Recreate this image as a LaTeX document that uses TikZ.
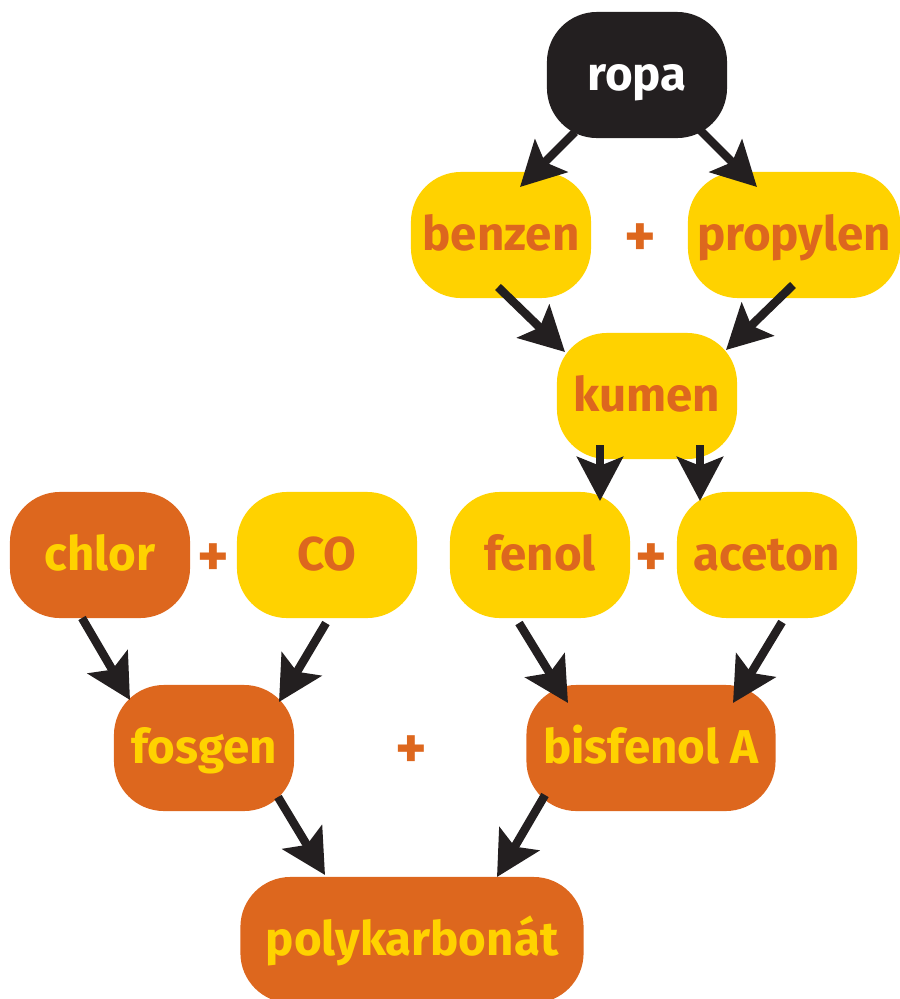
\documentclass[tikz,border=0pt]{standalone}
\usepackage{fontspec}
\setmainfont{Fira Sans}
\usetikzlibrary{arrows.meta,calc}
\definecolor{cyel}{HTML}{FFD200}
\definecolor{corg}{HTML}{DD671E}
\definecolor{cblk}{HTML}{231F20}
\tikzset{
  box/.style={rectangle, rounded corners=0.5cm, minimum width=1.8cm, minimum height=1.26cm,
    inner sep=0pt, text height=9pt, text depth=0pt, font=\fontsize{13.5}{15}\selectfont\bfseries},
  ybox/.style={box, fill=cyel, text=corg},
  obox/.style={box, fill=corg, text=cyel},
  kbox/.style={box, fill=cblk, text=white},
  plus/.style={text=corg, font=\fontsize{17}{18}\selectfont\bfseries, inner sep=0pt},
  arr/.style={draw=cblk, line width=2.4pt, -{Stealth[length=12.5pt,width=13pt,inset=2.5pt]}}
}
\begin{document}
\begin{tikzpicture}[x=0.01cm,y=-0.01cm]
\useasboundingbox (0,0) rectangle (900,999);
\clip (0,0) rectangle (900,999);
\node[kbox] (ropa) at (637,75) {ropa};
\node[ybox] (benzen) at (501,235) {benzen};
\node[ybox, minimum width=2.12cm] (propylen) at (794,235) {propylen};
\node[plus] (p1) at (640,240) {+};
\node[ybox] (kumen) at (647,396) {kumen};
\node[obox] (chlor) at (100,555) {chlor};
\node[plus] (p2) at (213,560) {+};
\node[ybox] (co) at (327,555) {CO};
\node[ybox] (fenol) at (540,555) {fenol};
\node[plus] (p3) at (651,560) {+};
\node[ybox] (aceton) at (767,555) {aceton};
\node[obox] (fosgen) at (204,748) {fosgen};
\node[plus] (p4) at (411,752) {+};
\node[obox, minimum width=2.49cm] (bisfenol) at (651,748) {bisfenol A};
\node[obox, minimum width=3.43cm] (poly) at (412,940) {polykarbonát};

\draw[arr] ($(ropa)+(-62,57)$) -- ($(benzen)+(19,-48)$);
\draw[arr] ($(ropa)+(63,55)$) -- ($(propylen)+(-37,-48)$);
\draw[arr] ($(benzen)+(-3,52)$) -- ($(kumen)+(-82,-44)$);
\draw[arr] ($(propylen)+(-1,50)$) -- ($(kumen)+(79,-46)$);
\draw[arr] ($(kumen)+(-47,49)$) -- ($(fenol)+(60,-54)$);
\draw[arr] ($(kumen)+(53,49)$) -- ($(aceton)+(-67,-54)$);
\draw[arr] ($(chlor)+(-18,63)$) -- ($(fosgen)+(-74,-48)$);
\draw[arr] ($(co)+(-1,68)$) -- ($(fosgen)+(75,-46)$);
\draw[arr] ($(fenol)+(-21,68)$) -- ($(bisfenol)+(-83,-45)$);
\draw[arr] ($(aceton)+(15,67)$) -- ($(bisfenol)+(82,-45)$);
\draw[arr] ($(fosgen)+(74,49)$) -- ($(poly)+(-87,-65)$);
\draw[arr] ($(bisfenol)+(-106,47)$) -- ($(poly)+(85,-63)$);
\end{tikzpicture}
\end{document}
